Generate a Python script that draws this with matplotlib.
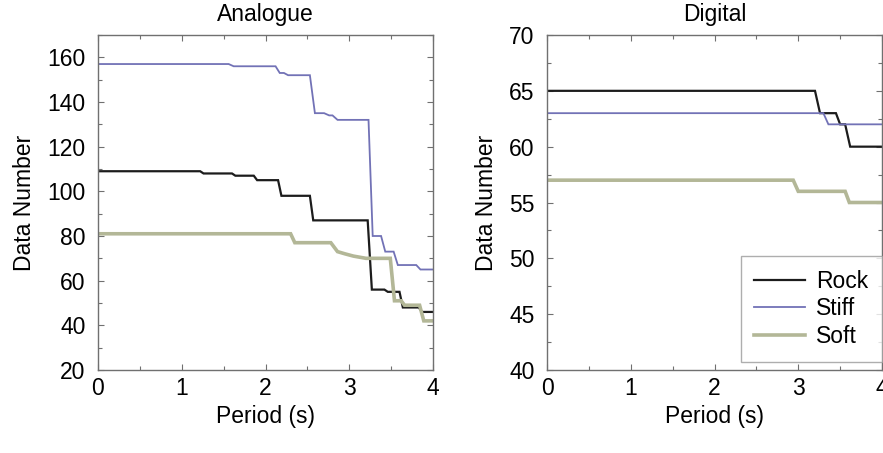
import matplotlib
matplotlib.use("Agg")
import matplotlib.pyplot as plt
from matplotlib.ticker import MultipleLocator

plt.rcParams['font.family'] = ['Liberation Sans', 'DejaVu Sans']

# ---------------- data ----------------
series_names = ["Rock", "Stiff", "Soft"]

# Analogue panel
ana_rock_period = [0, 1.22, 1.26, 1.60, 1.64, 1.86, 1.90, 2.15, 2.19, 2.53, 2.57, 3.22, 3.27, 3.42, 3.46, 3.60, 3.64, 3.83, 3.87, 4.0]
ana_rock_count  = [109, 109, 108, 108, 107, 107, 105, 105, 98, 98, 87, 87, 56, 56, 55, 55, 48, 48, 46, 46]

ana_stiff_period = [0, 1.56, 1.62, 2.12, 2.17, 2.22, 2.27, 2.53, 2.59, 2.70, 2.76, 2.80, 2.86, 3.23, 3.28, 3.38, 3.43, 3.53, 3.58, 3.80, 3.85, 4.0]
ana_stiff_count  = [157, 157, 156, 156, 153, 153, 152, 152, 135, 135, 134, 134, 132, 132, 80, 80, 73, 73, 67, 67, 65, 65]

ana_soft_period = [0, 2.30, 2.35, 2.78, 2.86, 2.95, 3.05, 3.20, 3.49, 3.54, 3.62, 3.66, 3.84, 3.89, 4.0]
ana_soft_count  = [81, 81, 77, 77, 73, 72, 71, 70, 70, 51, 51, 49, 49, 42, 42]

# Digital panel
dig_rock_period = [0, 3.20, 3.26, 3.45, 3.50, 3.56, 3.62, 4.0]
dig_rock_count  = [65, 65, 63, 63, 62, 62, 60, 60]

dig_stiff_period = [0, 3.30, 3.36, 4.0]
dig_stiff_count  = [63, 63, 62, 62]

dig_soft_period = [0, 2.94, 3.00, 3.56, 3.61, 4.0]
dig_soft_count  = [57, 57, 56, 56, 55, 55]

panel_titles = ["Analogue", "Digital"]
x_label = "Period (s)"
y_label = "Data Number"

# ---------------- styling ----------------
colors = {"Rock": "#1c1c1c", "Stiff": "#7272b6", "Soft": "#b3b797"}
widths = {"Rock": 1.6, "Stiff": 1.3, "Soft": 2.6}
spine_col = "#707070"
FS = 16.5

fig = plt.figure(figsize=(8.83, 4.53), dpi=100)
axL = fig.add_axes([98/883, 1 - 370/453, 335/883, 335/453])
axR = fig.add_axes([547/883, 1 - 370/453, 335/883, 335/453])

panels = [
    (axL, [(ana_rock_period, ana_rock_count), (ana_stiff_period, ana_stiff_count), (ana_soft_period, ana_soft_count)],
     (20, 170), 20, 10),
    (axR, [(dig_rock_period, dig_rock_count), (dig_stiff_period, dig_stiff_count), (dig_soft_period, dig_soft_count)],
     (40, 70), 5, 2.5),
]

for (ax, data, ylim, ymaj, ymin), title in zip(panels, panel_titles):
    for name, (px, py) in zip(series_names, data):
        ax.plot(px, py, color=colors[name], lw=widths[name], label=name,
                solid_joinstyle='miter')
    ax.set_xlim(0, 4)
    ax.set_ylim(*ylim)
    ax.xaxis.set_major_locator(MultipleLocator(1))
    ax.xaxis.set_minor_locator(MultipleLocator(0.5))
    ax.yaxis.set_major_locator(MultipleLocator(ymaj))
    ax.yaxis.set_minor_locator(MultipleLocator(ymin))
    ax.tick_params(which='both', direction='in', top=True, right=True,
                   color=spine_col, labelsize=FS, width=0.8)
    ax.tick_params(which='major', length=4)
    ax.tick_params(which='minor', length=3)
    ax.tick_params(axis='y', which='major', pad=9)
    ax.tick_params(axis='x', which='major', pad=5)
    for s in ax.spines.values():
        s.set_color(spine_col)
        s.set_linewidth(1.0)
    ax.set_title(title, fontsize=FS, pad=10)
    ax.set_xlabel(x_label, fontsize=FS, labelpad=4)
    ax.set_ylabel(y_label, fontsize=FS, labelpad=8)

leg = axR.legend(loc='lower right', bbox_to_anchor=(1.0, 0.025), borderaxespad=0,
                 fontsize=FS, frameon=True, fancybox=False, handlelength=2.2,
                 handletextpad=0.5, labelspacing=0.2, borderpad=0.6)
leg.get_frame().set_edgecolor("#9a9a9a")
leg.get_frame().set_linewidth(1.0)

fig.savefig("out.png", dpi=100)
